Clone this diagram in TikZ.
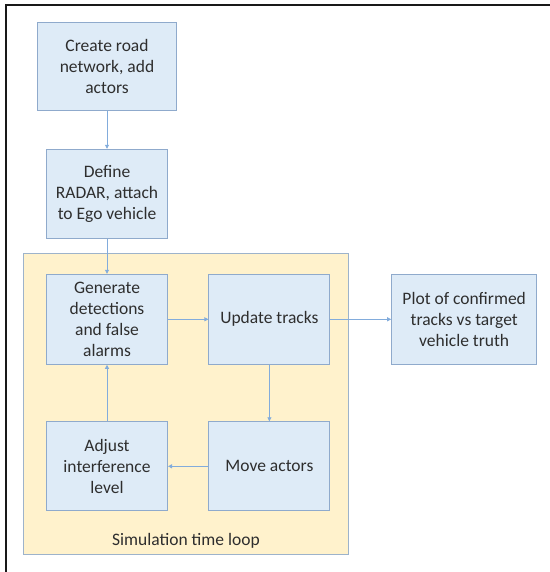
\documentclass[tikz,border=0pt]{standalone}
\usepackage{fontspec}
\setmainfont{Carlito}
\usetikzlibrary{arrows.meta}

\definecolor{boxfill}{RGB}{222,235,247}
\definecolor{boxline}{RGB}{143,170,204}
\definecolor{loopfill}{RGB}{255,242,204}
\definecolor{loopline}{RGB}{157,179,203}
\definecolor{flowline}{RGB}{130,172,220}

\tikzset{
	stepbox/.style={draw=boxline, line width=1pt, fill=boxfill, align=center,
		inner sep=2pt, font=\fontsize{17.5}{21}\selectfont, text=black!82},
	flow/.style={draw=flowline, line width=0.8pt, -{Triangle[length=4pt,width=4pt]}}
}

\begin{document}
\begin{tikzpicture}[x=1pt, y=-1pt]

		% page size and frame

		\useasboundingbox (0,0) rectangle (549,572);

		\draw[line width=1.8pt, black!90] (6,590) -- (6,5) -- (570,5);

		% loop area

		\node[draw=loopline, line width=1pt, fill=loopfill, minimum width=325pt, minimum height=301pt,
			inner sep=0pt] (loop) at (186, 403.8) {};

		\node[font=\fontsize{17.5}{21}\selectfont, text=black!82] (looplabel) at (186, 540.7) {Simulation time loop};

		% define point

		\coordinate (C)  at (107, 66.9);

		\coordinate (D)  at (107, 193.8);

		\coordinate (G)  at (107, 319.3);

		\coordinate (U)  at (269.4, 319.3);

		\coordinate (P)  at (464.2, 319.3);

		\coordinate (A)  at (107, 466.3);

		\coordinate (M)  at (269.4, 466.3);

		% boxes

		\node[stepbox, minimum width=139pt, minimum height=88pt] (create) at (C) {Create road\\network, add\\actors};

		\node[stepbox, minimum width=121pt, minimum height=89pt] (radar) at (D) {Define\\RADAR, attach\\to Ego vehicle};

		\node[stepbox, minimum width=121pt, minimum height=90pt] (detect) at (G) {Generate\\detections\\and false\\alarms};

		\node[stepbox, minimum width=121pt, minimum height=90pt] (tracks) at (U) {Update tracks};

		\node[stepbox, minimum width=145pt, minimum height=90pt] (plot) at (P) {Plot of confirmed\\tracks vs target\\vehicle truth};

		\node[stepbox, minimum width=121pt, minimum height=89pt] (adjust) at (A) {Adjust\\interference\\level};

		\node[stepbox, minimum width=121pt, minimum height=89pt] (move) at (M) {Move actors};

		% arrows

		\draw[flow] (create) -- (radar);

		\draw[flow] (radar) -- (detect);

		\draw[flow] (detect) -- (tracks);

		\draw[flow] (tracks) -- (plot);

		\draw[flow] (tracks) -- (move);

		\draw[flow] (move) -- (adjust);

		\draw[flow] (adjust) -- (detect);

	\end{tikzpicture}
\end{document}
